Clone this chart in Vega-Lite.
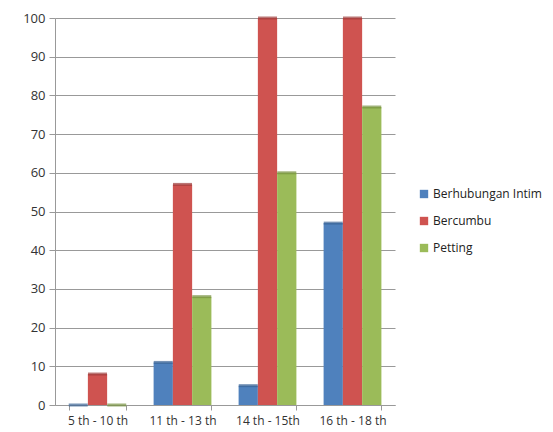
{
  "$schema": "https://vega.github.io/schema/vega-lite/v6.json",
  "width": 340,
  "height": 387,
  "autosize": {"type": "none"},
  "padding": {"left": 55, "top": 18, "right": 158, "bottom": 27},
  "background": "#ffffff",
  "data": {"values": [
    {"age": "5 th - 10 th", "cat": "Berhubungan Intim", "v": 0},
    {"age": "5 th - 10 th", "cat": "Bercumbu", "v": 8},
    {"age": "5 th - 10 th", "cat": "Petting", "v": 0},
    {"age": "11 th - 13 th", "cat": "Berhubungan Intim", "v": 11},
    {"age": "11 th - 13 th", "cat": "Bercumbu", "v": 57},
    {"age": "11 th - 13 th", "cat": "Petting", "v": 28},
    {"age": "14 th - 15th", "cat": "Berhubungan Intim", "v": 5},
    {"age": "14 th - 15th", "cat": "Bercumbu", "v": 100},
    {"age": "14 th - 15th", "cat": "Petting", "v": 60},
    {"age": "16 th - 18 th", "cat": "Berhubungan Intim", "v": 47},
    {"age": "16 th - 18 th", "cat": "Bercumbu", "v": 100},
    {"age": "16 th - 18 th", "cat": "Petting", "v": 77}
  ]},
  "encoding": {
    "x": {"field": "age", "type": "nominal", "sort": null,
      "scale": {"paddingInner": 0.32, "paddingOuter": 0.16},
      "axis": {"title": null, "labelAngle": 0, "labelFont": "Open Sans", "labelFontSize": 12, "labelColor": "#333333",
        "domainColor": "#999999", "tickColor": "#999999", "labelPadding": 5, "tickBand": "extent", "tickSize": 5}},
    "xOffset": {"field": "cat", "type": "nominal", "sort": ["Berhubungan Intim", "Bercumbu", "Petting"]},
    "y": {"field": "v", "type": "quantitative",
      "scale": {"domain": [0, 100], "nice": false},
      "axis": {"title": null, "values": [0,10,20,30,40,50,60,70,80,90,100], "labelOverlap": false,
        "labelFont": "Open Sans", "labelFontSize": 13, "labelColor": "#333333", "labelPadding": 4,
        "domainColor": "#999999", "tickColor": "#999999", "tickSize": 6,
        "grid": true, "gridColor": "#999999", "gridWidth": 1}}
  },
  "layer": [
    {
      "mark": {"type": "bar"},
      "encoding": {
        "color": {"field": "cat", "type": "nominal", "sort": ["Berhubungan Intim", "Bercumbu", "Petting"],
          "scale": {"domain": ["Berhubungan Intim", "Bercumbu", "Petting"], "range": ["#4F81BD", "#CF5350", "#9BBB59"]},
          "legend": {"title": null, "orient": "none", "legendX": 363, "legendY": 170, "symbolType": "square",
            "symbolSize": 70, "symbolStrokeWidth": 0, "labelFont": "Open Sans", "labelFontSize": 12,
            "labelColor": "#222222", "rowPadding": 15, "labelOffset": 3}}
      }
    },
    {
      "mark": {"type": "tick", "thickness": 3, "size": 19},
      "encoding": {
        "color": {"field": "cat", "type": "nominal", "legend": null,
          "scale": {"domain": ["Berhubungan Intim", "Bercumbu", "Petting"], "range": ["#4F81BD", "#CF5350", "#9BBB59"]}},
        "fill": {"field": "cat", "type": "nominal", "legend": null,
          "scale": {"domain": ["Berhubungan Intim", "Bercumbu", "Petting"], "range": ["#3A6496", "#9E3C3A", "#76913F"]}}
      }
    }
  ],
  "config": {"view": {"stroke": null}}
}
